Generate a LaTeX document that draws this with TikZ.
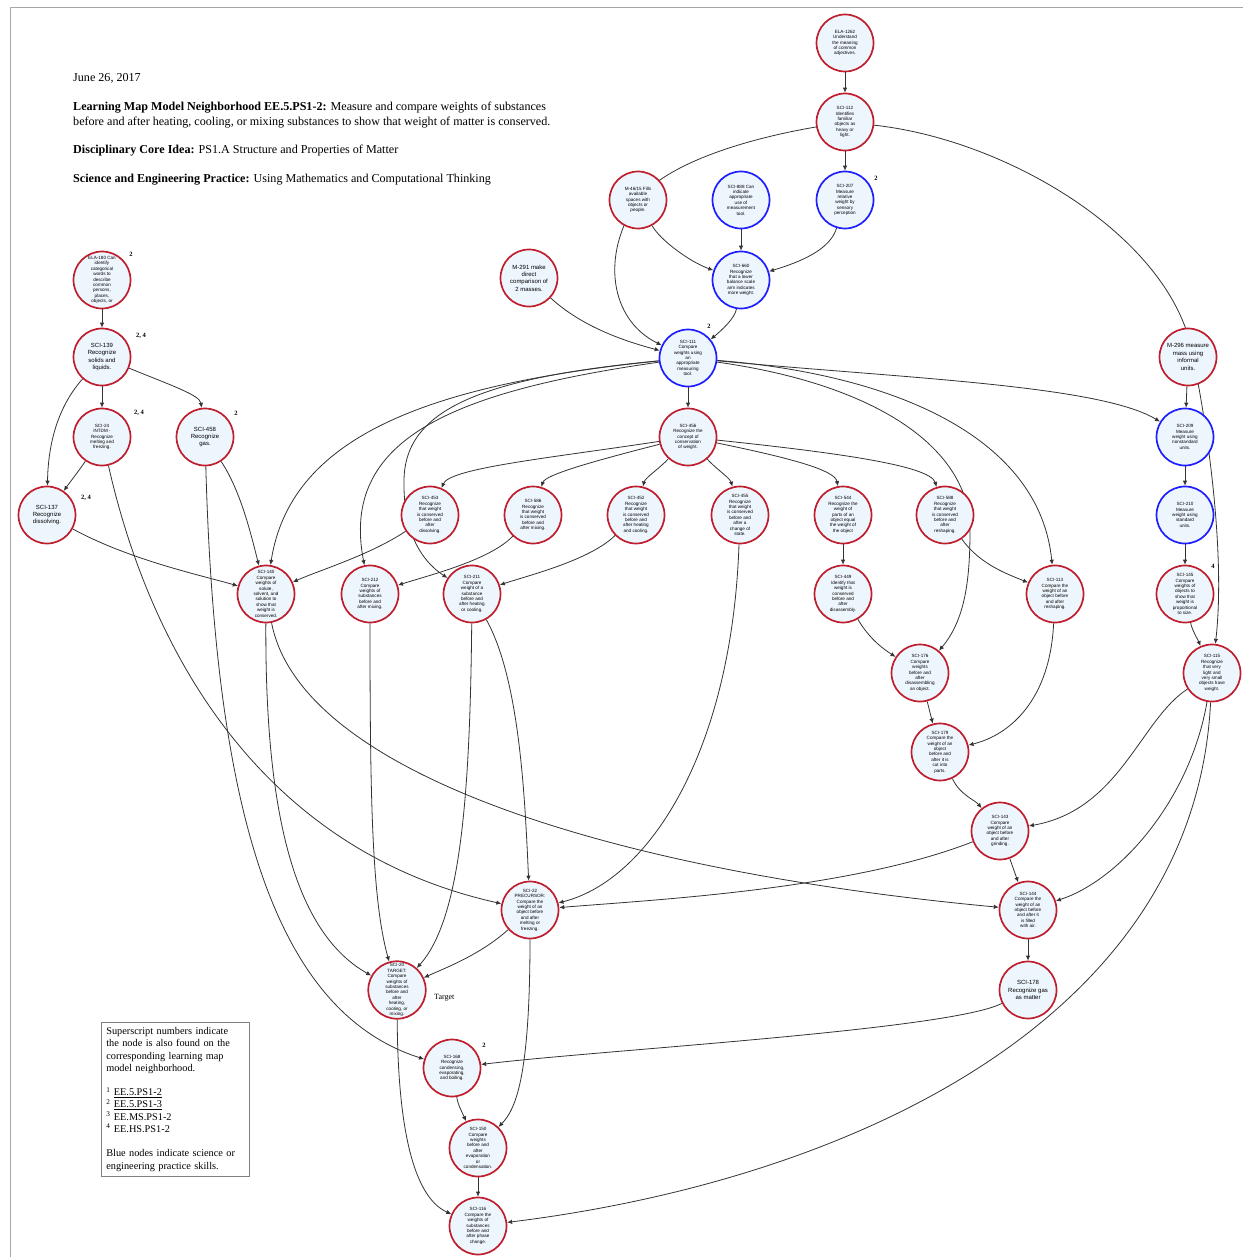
\documentclass[tikz,border=0pt]{standalone}
\usepackage{fontspec}
\setmainfont{Liberation Serif}
\newfontfamily\nodefont{Liberation Sans}
\usetikzlibrary{arrows.meta}
\definecolor{nred}{RGB}{190,30,45}
\definecolor{nblue}{RGB}{30,30,255}
\definecolor{nfill}{RGB}{238,246,253}
\pgfdeclarelayer{bg}
\pgfsetlayers{bg,main}
\begin{document}
\begin{tikzpicture}[x=1pt,y=-1pt,
 nd/.style={circle, draw=nred, line width=1.7pt, fill=nfill, minimum size=57pt, inner sep=0pt, align=center, font=\nodefont\fontsize{4.6}{5.4}\selectfont},
 bnd/.style={nd, draw=nblue},
 big/.style={font=\nodefont\fontsize{6}{7.4}\selectfont},
 e/.style={draw=black!80, line width=0.8pt, -{Latex[length=5pt,width=4.5pt]}},
 sup/.style={font=\bfseries\fontsize{6.5}{6.5}\selectfont, inner sep=0pt},
 hd/.style={anchor=north west, align=left, inner sep=0pt, font=\fontsize{12.1}{14.3}\selectfont}]
\useasboundingbox (0,0) rectangle (1243,1257);
\draw[black!35, line width=1pt] (10,1257) -- (10,8) -- (1243,8);

% header
\node[hd] (date) at (73,73) {June 26, 2017};
\node[hd] (title) at (73,102) {\textbf{Learning Map Model Neighborhood EE.5.PS1-2:} Measure and compare weights of substances\\before and after heating, cooling, or mixing substances to show that weight of matter is conserved.};
\node[hd] (dci) at (73,145) {\textbf{Disciplinary Core Idea:} PS1.A Structure and Properties of Matter};
\node[hd] (sep) at (73,174) {\textbf{Science and Engineering Practice:} Using Mathematics and Computational Thinking};

% legend
\node[draw=black!50, line width=0.6pt, anchor=north west, align=left, inner sep=5pt, text width=138pt, font=\fontsize{10.3}{12.3}\selectfont] (legend) at (101,1022) {Superscript numbers indicate\\the node is also found on the\\corresponding learning map\\model neighborhood.\\[12pt]\textsuperscript{1} \underline{EE.5.PS1-2}\\\textsuperscript{2} \underline{EE.5.PS1-3}\\\textsuperscript{3} EE.MS.PS1-2\\\textsuperscript{4} EE.HS.PS1-2\\[12pt]Blue nodes indicate science or\\engineering practice skills.};

% nodes
\node[nd] (ELA1262) at (845,43) {ELA-1262\\Understand\\the meaning\\of common\\adjectives.};
\node[nd] (SCI112) at (845,122) {SCI-112\\Identifies\\familiar\\objects as\\heavy or\\light.};
\node[nd] (M4615) at (638,200) {M-46/15 Fills\\available\\spaces with\\objects or\\people.};
\node[bnd] (SCI888) at (741,200) {SCI-888 Can\\indicate\\appropriate\\use of\\measurement\\tool.};
\node[bnd] (SCI207) at (845,200) {SCI-207\\Measure\\relative\\weight by\\sensory\\perception};
\node[bnd] (SCI660) at (741,280) {SCI-660\\Recognize\\that a lower\\balance scale\\arm indicates\\more weight.};
\node[nd, big] (M291) at (529,278) {M-291 make\\direct\\comparison of\\2 masses.};
\node[bnd] (SCI111) at (688,358) {SCI-111\\Compare\\weights using\\an\\appropriate\\measuring\\tool.};
\node[nd, big] (M296) at (1188,357) {M-296 measure\\mass using\\informal\\units.};
\node[nd] (ELA180) at (102,280) {ELA-180 Can\\identify\\categorical\\words to\\describe\\common\\persons,\\places,\\objects, or};
\node[nd, big] (SCI139) at (102,357) {SCI-139\\Recognize\\solids and\\liquids.};
\node[nd] (SCI24) at (102,437) {SCI-24\\INTDM -\\Recognize\\melting and\\freezing.};
\node[nd, big] (SCI458) at (205,437) {SCI-458\\Recognize\\gas.};
\node[nd, big] (SCI137) at (47,515) {SCI-137\\Recognize\\dissolving.};
\node[nd] (SCI456) at (688,437) {SCI-456\\Recognize the\\concept of\\conservation\\of weight.};
\node[nd] (SCI453) at (430,515) {SCI-453\\Recognize\\that weight\\is conserved\\before and\\after\\dissolving.};
\node[nd] (SCI586) at (533,515) {SCI-586\\Recognize\\that weight\\is conserved\\before and\\after mixing.};
\node[nd] (SCI452) at (636,515) {SCI-452\\Recognize\\that weight\\is conserved\\before and\\after heating\\and cooling.};
\node[nd] (SCI455) at (740,515) {SCI-455\\Recognize\\that weight\\is conserved\\before and\\after a\\change of\\state.};
\node[nd] (SCI544) at (843,515) {SCI-544\\Recognize the\\weight of\\parts of an\\object equal\\the weight of\\the object};
\node[nd] (SCI588) at (945,515) {SCI-588\\Recognize\\that weight\\is conserved\\before and\\after\\reshaping.};
\node[bnd] (SCI209) at (1185,437) {SCI-209\\Measure\\weight using\\nonstandard\\units.};
\node[bnd] (SCI210) at (1185,515) {SCI-210\\Measure\\weight using\\standard\\units.};
\node[nd] (SCI145) at (1185,594) {SCI-145\\Compare\\weights of\\objects to\\show that\\weight is\\proportional\\to size.};
\node[nd] (SCI115) at (1212,673) {SCI-115\\Recognize\\that very\\light and\\very small\\objects have\\weight.};
\node[nd] (SCI140) at (266,594) {SCI-140\\Compare\\weights of\\solute,\\solvent, and\\solution to\\show that\\weight is\\conserved.};
\node[nd] (SCI212) at (370,594) {SCI-212\\Compare\\weights of\\substances\\before and\\after mixing.};
\node[nd] (SCI211) at (472,594) {SCI-211\\Compare\\weight of a\\substance\\before and\\after heating\\or cooling.};
\node[nd] (SCI449) at (843,594) {SCI-449\\Identify that\\weight is\\conserved\\before and\\after\\disassembly.};
\node[nd] (SCI113) at (1055,594) {SCI-113\\Compare the\\weight of an\\object before\\and after\\reshaping.};
\node[nd] (SCI176) at (920,673) {SCI-176\\Compare\\weights\\before and\\after\\disassembling\\an object.};
\node[nd] (SCI179) at (940,752) {SCI-179\\Compare the\\weight of an\\object\\before and\\after it is\\cut into\\parts.};
\node[nd] (SCI143) at (1000,831) {SCI-143\\Compare\\weight of an\\object before\\and after\\grinding.};
\node[nd] (SCI144) at (1028,910) {SCI-144\\Compare the\\weight of an\\object before\\and after it\\is filled\\with air.};
\node[nd, big] (SCI178) at (1028,990) {SCI-178\\Recognize gas\\as matter};
\node[nd] (SCI22) at (530,910) {SCI-22\\PRECURSOR:\\Compare the\\weight of an\\object before\\and after\\melting or\\freezing.};
\node[nd] (SCI20) at (397,990) {SCI-20\\TARGET:\\Compare\\weights of\\substances\\before and\\after\\heating,\\cooling, or\\mixing.};
\node[nd] (SCI168) at (452,1068) {SCI-168\\Recognize\\condensing,\\evaporating,\\and boiling.};
\node[nd] (SCI150) at (478,1148) {SCI-150\\Compare\\weights\\before and\\after\\evaporation\\or\\condensation.};
\node[nd] (SCI116) at (478,1226) {SCI-116\\Compare the\\weights of\\substances\\before and\\after phase\\change.};

\node[anchor=west, inner sep=0pt, font=\fontsize{8}{8}\selectfont] (target) at (434,998) {Target};

% superscripts
\node[sup] (s207) at (876,178) {2};
\node[sup] (s111) at (709,326) {2};
\node[sup] (s180) at (131,254) {2};
\node[sup] (s139) at (141,336) {2, 4};
\node[sup] (s24) at (139,413) {2, 4};
\node[sup] (s458) at (236,413) {2};
\node[sup] (s137) at (86,498) {2, 4};
\node[sup] (s145) at (1213,566) {4};
\node[sup] (s168) at (484,1045) {2};

\begin{pgfonlayer}{bg}
\draw[e] (ELA1262) -- (SCI112);
\draw[e] (SCI112) -- (SCI207);
\draw[e] (SCI112) .. controls (740,140) and (665,165) .. (638,200) .. controls (600,255) and (610,320) .. (SCI111);
\draw[e] (SCI112) .. controls (1010,140) and (1175,240) .. (1193,357) .. controls (1210,440) and (1225,560) .. (SCI115);
\draw[e] (M4615) .. controls (660,240) and (690,262) .. (SCI660);
\draw[e] (SCI888) -- (SCI660);
\draw[e] (SCI207) .. controls (830,250) and (800,262) .. (SCI660);
\draw[e] (SCI660) .. controls (735,318) and (722,330) .. (SCI111);
\draw[e] (M291) .. controls (580,325) and (620,340) .. (SCI111);
\draw[e] (M296) -- (SCI209);
\draw[e] (SCI111) .. controls (900,378) and (1100,385) .. (SCI209);
\draw[e] (SCI209) -- (SCI210);
\draw[e] (SCI210) -- (SCI145);
\draw[e] (SCI145) .. controls (1192,630) and (1198,640) .. (SCI115);
\draw[e] (SCI111) -- (SCI456);
\draw[e] (SCI111) .. controls (420,385) and (290,440) .. (SCI140);
\draw[e] (SCI111) .. controls (450,392) and (340,440) .. (SCI212);
\draw[e] (SCI111) .. controls (480,378) and (405,410) .. (404,480) .. controls (403,530) and (420,560) .. (SCI211);
\draw[e] (SCI111) .. controls (880,385) and (970,450) .. (970,530) .. controls (970,580) and (965,620) .. (SCI176);
\draw[e] (SCI111) .. controls (900,375) and (1040,440) .. (SCI113);
\draw[e] (SCI456) .. controls (550,458) and (450,468) .. (SCI453);
\draw[e] (SCI456) .. controls (590,462) and (545,475) .. (SCI586);
\draw[e] (SCI456) .. controls (660,468) and (645,478) .. (SCI452);
\draw[e] (SCI456) .. controls (715,468) and (730,478) .. (SCI455);
\draw[e] (SCI456) .. controls (790,458) and (835,470) .. (SCI544);
\draw[e] (SCI456) .. controls (830,452) and (930,465) .. (SCI588);
\draw[e] (ELA180) -- (SCI139);
\draw[e] (SCI139) -- (SCI24);
\draw[e] (SCI139) .. controls (170,385) and (200,395) .. (SCI458);
\draw[e] (SCI139) .. controls (55,410) and (48,450) .. (SCI137);
\draw[e] (SCI24) .. controls (78,472) and (70,482) .. (SCI137);
\draw[e] (SCI24) .. controls (150,650) and (260,850) .. (SCI22);
\draw[e] (SCI458) .. controls (215,800) and (270,1010) .. (SCI168);
\draw[e] (SCI458) .. controls (240,490) and (250,530) .. (SCI140);
\draw[e] (SCI137) .. controls (130,560) and (200,575) .. (SCI140);
\draw[e] (SCI453) .. controls (370,555) and (320,570) .. (SCI140);
\draw[e] (SCI586) .. controls (490,560) and (430,575) .. (SCI212);
\draw[e] (SCI452) .. controls (590,560) and (530,575) .. (SCI211);
\draw[e] (SCI455) .. controls (732,750) and (650,880) .. (SCI22);
\draw[e] (SCI544) -- (SCI449);
\draw[e] (SCI449) .. controls (870,640) and (885,650) .. (SCI176);
\draw[e] (SCI588) .. controls (980,565) and (1010,575) .. (SCI113);
\draw[e] (SCI176) -- (SCI179);
\draw[e] (SCI113) .. controls (1050,700) and (1010,735) .. (SCI179);
\draw[e] (SCI179) .. controls (960,795) and (975,800) .. (SCI143);
\draw[e] (SCI143) -- (SCI144);
\draw[e] (SCI144) -- (SCI178);
\draw[e] (SCI115) .. controls (1140,720) and (1120,810) .. (SCI143);
\draw[e] (SCI115) .. controls (1190,800) and (1120,880) .. (SCI144);
\draw[e] (SCI115) .. controls (1195,1020) and (850,1180) .. (SCI116);
\draw[e] (SCI143) .. controls (850,890) and (650,900) .. (SCI22);
\draw[e] (SCI140) .. controls (300,770) and (600,870) .. (SCI144);
\draw[e] (SCI140) .. controls (265,800) and (290,930) .. (SCI20);
\draw[e] (SCI212) .. controls (370,800) and (372,900) .. (SCI20);
\draw[e] (SCI211) .. controls (470,800) and (460,920) .. (SCI20);
\draw[e] (SCI211) .. controls (520,680) and (525,800) .. (SCI22);
\draw[e] (SCI22) .. controls (480,955) and (445,968) .. (SCI20);
\draw[e] (SCI22) .. controls (530,1080) and (515,1110) .. (SCI150);
\draw[e] (SCI178) .. controls (950,1030) and (600,1050) .. (SCI168);
\draw[e] (SCI168) .. controls (458,1105) and (462,1112) .. (SCI150);
\draw[e] (SCI150) -- (SCI116);
\draw[e] (SCI20) .. controls (398,1150) and (420,1200) .. (SCI116);
\end{pgfonlayer}
\end{tikzpicture}
\end{document}
